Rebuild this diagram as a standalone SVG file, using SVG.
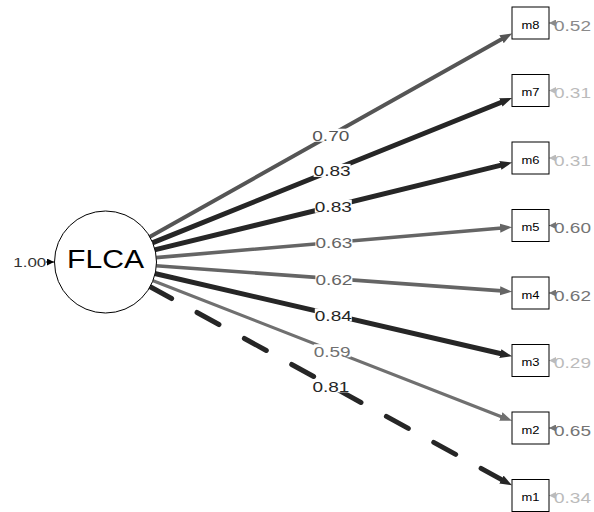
<svg xmlns="http://www.w3.org/2000/svg" width="594" height="512" viewBox="0 0 594 512">
  <style>
    text { font-family: "Liberation Sans", Arial, sans-serif; }
    .edge { fill: none; stroke-linecap: round; }
    .dark { stroke: #262626; stroke-width: 5; marker-end: url(#hd-dark); }
    .mid { stroke: #555555; stroke-width: 4; marker-end: url(#hd-mid); }
    .gray { stroke: #656565; stroke-width: 3.6; marker-end: url(#hd-gray); }
    .light { stroke: #707070; stroke-width: 3.2; marker-end: url(#hd-light); }
    .dashed { stroke-dasharray: 25 29; }
    .lbl-bg { fill: #ffffff; }
    .lbl { font-size: 15px; text-anchor: middle; }
    .box { fill: #ffffff; stroke: #000000; stroke-width: 1; }
    .man { font-size: 10px; text-anchor: middle; fill: #000000; }
    .res { stroke-width: 1; fill: none; }
    .res-text { font-size: 15px; }
  </style>
  <defs>
    <marker id="hd-dark" markerUnits="userSpaceOnUse" markerWidth="12" markerHeight="10" refX="2" refY="4.5" orient="auto" viewBox="0 0 12 9">
      <path d="M0,0 L12,4.5 L0,9 z" fill="#262626"/>
    </marker>
    <marker id="hd-mid" markerUnits="userSpaceOnUse" markerWidth="12" markerHeight="10" refX="2" refY="4.5" orient="auto" viewBox="0 0 12 9">
      <path d="M0,0 L12,4.5 L0,9 z" fill="#555555"/>
    </marker>
    <marker id="hd-gray" markerUnits="userSpaceOnUse" markerWidth="12" markerHeight="10" refX="2" refY="4.5" orient="auto" viewBox="0 0 12 9">
      <path d="M0,0 L12,4.5 L0,9 z" fill="#656565"/>
    </marker>
    <marker id="hd-light" markerUnits="userSpaceOnUse" markerWidth="12" markerHeight="10" refX="2" refY="4.5" orient="auto" viewBox="0 0 12 9">
      <path d="M0,0 L12,4.5 L0,9 z" fill="#707070"/>
    </marker>
    <marker id="rh-black" markerUnits="userSpaceOnUse" markerWidth="7" markerHeight="7" refX="7" refY="3.5" orient="auto" viewBox="0 0 7 7">
      <path d="M0,0 L7,3.5 L0,7 z" fill="#000000"/>
    </marker>
    <marker id="rh-a" markerUnits="userSpaceOnUse" markerWidth="7" markerHeight="7" refX="7" refY="3.5" orient="auto" viewBox="0 0 7 7">
      <path d="M0,0 L7,3.5 L0,7 z" fill="#8a8a8a"/>
    </marker>
    <marker id="rh-b" markerUnits="userSpaceOnUse" markerWidth="7" markerHeight="7" refX="7" refY="3.5" orient="auto" viewBox="0 0 7 7">
      <path d="M0,0 L7,3.5 L0,7 z" fill="#747474"/>
    </marker>
    <marker id="rh-c" markerUnits="userSpaceOnUse" markerWidth="7" markerHeight="7" refX="7" refY="3.5" orient="auto" viewBox="0 0 7 7">
      <path d="M0,0 L7,3.5 L0,7 z" fill="#bbbbbb"/>
    </marker>
  </defs>

  <!-- loadings: latent factor to indicators -->
  <g id="connectors">
    <path class="edge mid" d="M149.5,237.0 L503.3,38.3"/>
    <path class="edge dark" d="M152.3,242.9 L502.7,101.7"/>
    <path class="edge dark" d="M154.5,249.9 L502.3,164.9"/>
    <path class="edge gray" d="M155.8,257.6 L502.0,228.0"/>
    <path class="edge gray" d="M155.9,265.7 L502.0,290.9"/>
    <path class="edge dark" d="M154.7,273.5 L502.3,354.0"/>
    <path class="edge light" d="M152.5,280.5 L502.7,417.2"/>
    <path class="edge dark dashed" d="M149.7,286.5 L503.2,480.5"/>

    <!-- variance / residual arrows -->
    <path class="res" stroke="#000000" marker-end="url(#rh-black)" d="M46,262 L54,262"/>
    <path class="res" stroke="#8a8a8a" marker-end="url(#rh-a)" d="M556,23 L549,23"/>
    <path class="res" stroke="#bbbbbb" marker-end="url(#rh-c)" d="M556,90.5 L549,90.5"/>
    <path class="res" stroke="#bbbbbb" marker-end="url(#rh-c)" d="M556,158 L549,158"/>
    <path class="res" stroke="#747474" marker-end="url(#rh-b)" d="M556,225.5 L549,225.5"/>
    <path class="res" stroke="#747474" marker-end="url(#rh-b)" d="M556,293 L549,293"/>
    <path class="res" stroke="#bbbbbb" marker-end="url(#rh-c)" d="M556,360.5 L549,360.5"/>
    <path class="res" stroke="#747474" marker-end="url(#rh-b)" d="M556,428 L549,428"/>
    <path class="res" stroke="#bbbbbb" marker-end="url(#rh-c)" d="M556,495.5 L549,495.5"/>

    <!-- loading labels -->
    <g>
      <rect class="lbl-bg" x="312.3" y="128.7" width="37" height="13"/>
      <text class="lbl" x="330.8" y="141.2" fill="#555555" textLength="37" lengthAdjust="spacingAndGlyphs">0.70</text>
      <rect class="lbl-bg" x="313.6" y="163.9" width="37" height="13"/>
      <text class="lbl" x="332.1" y="176.4" fill="#262626" textLength="37" lengthAdjust="spacingAndGlyphs">0.83</text>
      <rect class="lbl-bg" x="314.8" y="199.7" width="37" height="13"/>
      <text class="lbl" x="333.3" y="212.2" fill="#262626" textLength="37" lengthAdjust="spacingAndGlyphs">0.83</text>
      <rect class="lbl-bg" x="315.4" y="235.8" width="37" height="13"/>
      <text class="lbl" x="333.9" y="248.3" fill="#656565" textLength="37" lengthAdjust="spacingAndGlyphs">0.63</text>
      <rect class="lbl-bg" x="315.4" y="272.2" width="37" height="13"/>
      <text class="lbl" x="333.9" y="284.7" fill="#656565" textLength="37" lengthAdjust="spacingAndGlyphs">0.62</text>
      <rect class="lbl-bg" x="314.8" y="308.4" width="37" height="13"/>
      <text class="lbl" x="333.3" y="320.9" fill="#262626" textLength="37" lengthAdjust="spacingAndGlyphs">0.84</text>
      <rect class="lbl-bg" x="313.7" y="344.2" width="37" height="13"/>
      <text class="lbl" x="332.2" y="356.7" fill="#707070" textLength="37" lengthAdjust="spacingAndGlyphs">0.59</text>
      <rect class="lbl-bg" x="312.4" y="379.4" width="37" height="13"/>
      <text class="lbl" x="330.9" y="391.9" fill="#262626" textLength="37" lengthAdjust="spacingAndGlyphs">0.81</text>
    </g>
  </g>

  <!-- latent factor -->
  <g id="FLCA">
    <circle cx="105.5" cy="262" r="51" fill="#ffffff" stroke="#000000" stroke-width="1"/>
    <text x="105.5" y="268.3" font-size="25.5" text-anchor="middle" fill="#000000" textLength="77" lengthAdjust="spacingAndGlyphs">FLCA</text>
    <text x="13.3" y="266.7" font-size="13" fill="#333333" textLength="33" lengthAdjust="spacingAndGlyphs">1.00</text>
  </g>

  <!-- indicators -->
  <g id="m8">
    <rect class="box" x="512" y="7" width="37" height="32"/>
    <text class="man" x="530.5" y="28.5" textLength="18" lengthAdjust="spacingAndGlyphs">m8</text>
    <text class="res-text" x="554" y="30.5" fill="#8a8a8a" textLength="37" lengthAdjust="spacingAndGlyphs">0.52</text>
  </g>
  <g id="m7">
    <rect class="box" x="512" y="74.5" width="37" height="32"/>
    <text class="man" x="530.5" y="96" textLength="18" lengthAdjust="spacingAndGlyphs">m7</text>
    <text class="res-text" x="554" y="98" fill="#bbbbbb" textLength="37" lengthAdjust="spacingAndGlyphs">0.31</text>
  </g>
  <g id="m6">
    <rect class="box" x="512" y="142" width="37" height="32"/>
    <text class="man" x="530.5" y="163.5" textLength="18" lengthAdjust="spacingAndGlyphs">m6</text>
    <text class="res-text" x="554" y="165.5" fill="#bbbbbb" textLength="37" lengthAdjust="spacingAndGlyphs">0.31</text>
  </g>
  <g id="m5">
    <rect class="box" x="512" y="209.5" width="37" height="32"/>
    <text class="man" x="530.5" y="231" textLength="18" lengthAdjust="spacingAndGlyphs">m5</text>
    <text class="res-text" x="554" y="233" fill="#747474" textLength="37" lengthAdjust="spacingAndGlyphs">0.60</text>
  </g>
  <g id="m4">
    <rect class="box" x="512" y="277" width="37" height="32"/>
    <text class="man" x="530.5" y="298.5" textLength="18" lengthAdjust="spacingAndGlyphs">m4</text>
    <text class="res-text" x="554" y="300.5" fill="#747474" textLength="37" lengthAdjust="spacingAndGlyphs">0.62</text>
  </g>
  <g id="m3">
    <rect class="box" x="512" y="344.5" width="37" height="32"/>
    <text class="man" x="530.5" y="366" textLength="18" lengthAdjust="spacingAndGlyphs">m3</text>
    <text class="res-text" x="554" y="368" fill="#bbbbbb" textLength="37" lengthAdjust="spacingAndGlyphs">0.29</text>
  </g>
  <g id="m2">
    <rect class="box" x="512" y="412" width="37" height="32"/>
    <text class="man" x="530.5" y="433.5" textLength="18" lengthAdjust="spacingAndGlyphs">m2</text>
    <text class="res-text" x="554" y="435.5" fill="#747474" textLength="37" lengthAdjust="spacingAndGlyphs">0.65</text>
  </g>
  <g id="m1">
    <rect class="box" x="512" y="479.5" width="37" height="32"/>
    <text class="man" x="530.5" y="501" textLength="18" lengthAdjust="spacingAndGlyphs">m1</text>
    <text class="res-text" x="554" y="503" fill="#bbbbbb" textLength="37" lengthAdjust="spacingAndGlyphs">0.34</text>
  </g>
</svg>
